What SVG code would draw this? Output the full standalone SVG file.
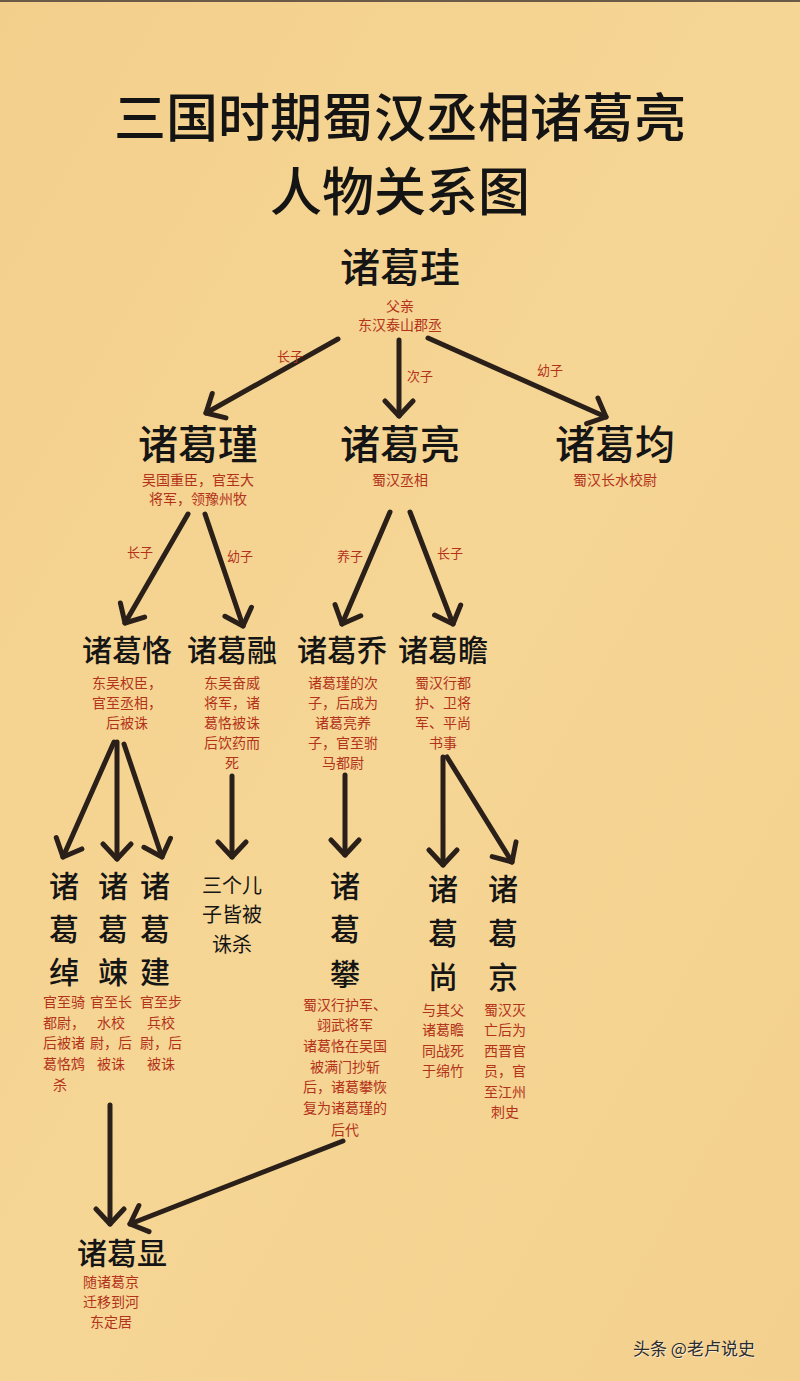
<svg xmlns="http://www.w3.org/2000/svg" width="800" height="1381" viewBox="0 0 800 1381">
<defs>
<linearGradient id="bg" x1="0" y1="0" x2="1" y2="1">
<stop offset="0" stop-color="#F3CF8C"/>
<stop offset="0.5" stop-color="#F6D695"/>
<stop offset="1" stop-color="#F3D08E"/>
</linearGradient>
<marker id="ah" viewBox="-20 -17 24 34" refX="0" refY="0" markerWidth="24" markerHeight="34" markerUnits="userSpaceOnUse" orient="auto">
<path d="M-15,-14 L0,0 L-15,14" fill="none" stroke="#2a2019" stroke-width="5" stroke-linecap="round" stroke-linejoin="round"/>
</marker>
<style>
text{font-family:"Noto Sans CJK SC","Noto Sans",sans-serif;text-anchor:middle}
.title{font-size:52px;font-weight:500;fill:#141414}
.n1{font-size:40px;font-weight:500;fill:#151515}
.n2{font-size:30px;font-weight:500;fill:#151515}
.d{font-size:14px;fill:#b3321a}
.rel{font-size:13px;fill:#b3321a}
.c{font-size:20px;fill:#151515}
.arr line{stroke:#2a2019;stroke-width:5;stroke-linecap:round;marker-end:url(#ah)}
.wm{font-size:17px;fill:#2c2c2c;text-anchor:start}
</style>
</defs>
<rect width="800" height="1381" fill="url(#bg)"/>
<rect width="800" height="2" fill="#6a5a47"/>

<g id="title">
<text class="title" x="400" y="137">三国时期蜀汉丞相诸葛亮</text>
<text class="title" x="400" y="211">人物关系图</text>
</g>

<g id="connectors" class="arr">
<line x1="338" y1="339" x2="206" y2="413"/>
<line x1="399" y1="340" x2="399" y2="416"/>
<line x1="428" y1="338" x2="606" y2="417"/>
<line x1="188" y1="514" x2="125" y2="623"/>
<line x1="205" y1="514" x2="243" y2="626"/>
<line x1="390" y1="512" x2="342" y2="624"/>
<line x1="410" y1="512" x2="453" y2="624"/>
<line x1="114" y1="742" x2="63" y2="857"/>
<line x1="117" y1="742" x2="117" y2="859"/>
<line x1="124" y1="744" x2="162" y2="857"/>
<line x1="232" y1="776" x2="232" y2="857"/>
<line x1="345" y1="775" x2="345" y2="855"/>
<line x1="443" y1="757" x2="443" y2="865"/>
<line x1="447" y1="757" x2="512" y2="862"/>
<line x1="110" y1="1105" x2="110" y2="1224"/>
<line x1="343" y1="1141" x2="130" y2="1224"/>
</g>

<g id="rel-labels">
<text class="rel" x="290" y="361">长子</text>
<text class="rel" x="420" y="381">次子</text>
<text class="rel" x="550" y="375">幼子</text>
<text class="rel" x="140" y="557">长子</text>
<text class="rel" x="240" y="561">幼子</text>
<text class="rel" x="350" y="561">养子</text>
<text class="rel" x="450" y="558">长子</text>
</g>

<g id="n-zhugegui">
<text class="n1" x="400" y="282">诸葛珪</text>
<text class="d" x="400" y="311">父亲</text>
<text class="d" x="400" y="330">东汉泰山郡丞</text>
</g>

<g id="n-zhugejin">
<text class="n1" x="198" y="459">诸葛瑾</text>
<text class="d" x="198" y="485">吴国重臣，官至大</text>
<text class="d" x="198" y="504">将军，领豫州牧</text>
</g>

<g id="n-zhugeliang">
<text class="n1" x="400" y="459">诸葛亮</text>
<text class="d" x="400" y="485">蜀汉丞相</text>
</g>

<g id="n-zhugejun">
<text class="n1" x="615" y="459">诸葛均</text>
<text class="d" x="615" y="485">蜀汉长水校尉</text>
</g>

<g id="n-zhugeke">
<text class="n2" x="127" y="661">诸葛恪</text>
<text class="d" x="127" y="688">东吴权臣，</text>
<text class="d" x="127" y="708">官至丞相，</text>
<text class="d" x="127" y="728">后被诛</text>
</g>

<g id="n-zhugerong">
<text class="n2" x="232" y="661">诸葛融</text>
<text class="d" x="232" y="688">东吴奋威</text>
<text class="d" x="232" y="708">将军，诸</text>
<text class="d" x="232" y="728">葛恪被诛</text>
<text class="d" x="232" y="748">后饮药而</text>
<text class="d" x="232" y="768">死</text>
</g>

<g id="n-zhugeqiao">
<text class="n2" x="342" y="661">诸葛乔</text>
<text class="d" x="343" y="688">诸葛瑾的次</text>
<text class="d" x="343" y="708">子，后成为</text>
<text class="d" x="343" y="728">诸葛亮养</text>
<text class="d" x="343" y="748">子，官至驸</text>
<text class="d" x="343" y="768">马都尉</text>
</g>

<g id="n-zhugezhan">
<text class="n2" x="443" y="661">诸葛瞻</text>
<text class="d" x="443" y="688">蜀汉行都</text>
<text class="d" x="443" y="708">护、卫将</text>
<text class="d" x="443" y="728">军、平尚</text>
<text class="d" x="443" y="748">书事</text>
</g>

<g id="n-zhugechuo">
<text class="n2" x="64" y="897">诸</text>
<text class="n2" x="64" y="940">葛</text>
<text class="n2" x="64" y="983">绰</text>
<text class="d" x="64" y="1007">官至骑</text>
<text class="d" x="64" y="1028">都尉，</text>
<text class="d" x="64" y="1048">后被诸</text>
<text class="d" x="64" y="1069">葛恪鸩</text>
<text class="d" x="60" y="1090">杀</text>
</g>

<g id="n-zhugesong">
<text class="n2" x="113" y="897">诸</text>
<text class="n2" x="113" y="940">葛</text>
<text class="n2" x="113" y="983">竦</text>
<text class="d" x="111" y="1007">官至长</text>
<text class="d" x="111" y="1028">水校</text>
<text class="d" x="111" y="1048">尉，后</text>
<text class="d" x="111" y="1069">被诛</text>
</g>

<g id="n-zhugejian">
<text class="n2" x="155" y="897">诸</text>
<text class="n2" x="155" y="940">葛</text>
<text class="n2" x="155" y="983">建</text>
<text class="d" x="161" y="1007">官至步</text>
<text class="d" x="161" y="1028">兵校</text>
<text class="d" x="161" y="1048">尉，后</text>
<text class="d" x="161" y="1069">被诛</text>
</g>

<g id="n-sons">
<text class="c" x="232" y="893">三个儿</text>
<text class="c" x="232" y="922">子皆被</text>
<text class="c" x="232" y="952">诛杀</text>
</g>

<g id="n-zhugepan">
<text class="n2" x="345" y="897">诸</text>
<text class="n2" x="345" y="940">葛</text>
<text class="n2" x="345" y="985">攀</text>
<text class="d" x="345" y="1010">蜀汉行护军、</text>
<text class="d" x="345" y="1030">翊武将军</text>
<text class="d" x="345" y="1051">诸葛恪在吴国</text>
<text class="d" x="345" y="1072">被满门抄斩</text>
<text class="d" x="345" y="1092">后，诸葛攀恢</text>
<text class="d" x="345" y="1113">复为诸葛瑾的</text>
<text class="d" x="345" y="1135">后代</text>
</g>

<g id="n-zhugeshang">
<text class="n2" x="443" y="900">诸</text>
<text class="n2" x="443" y="944">葛</text>
<text class="n2" x="443" y="988">尚</text>
<text class="d" x="443" y="1015">与其父</text>
<text class="d" x="443" y="1035">诸葛瞻</text>
<text class="d" x="443" y="1056">同战死</text>
<text class="d" x="443" y="1076">于绵竹</text>
</g>

<g id="n-zhugejing">
<text class="n2" x="503" y="900">诸</text>
<text class="n2" x="503" y="944">葛</text>
<text class="n2" x="503" y="988">京</text>
<text class="d" x="505" y="1015">蜀汉灭</text>
<text class="d" x="505" y="1035">亡后为</text>
<text class="d" x="505" y="1056">西晋官</text>
<text class="d" x="505" y="1076">员，官</text>
<text class="d" x="505" y="1097">至江州</text>
<text class="d" x="505" y="1117">刺史</text>
</g>

<g id="n-zhugexian">
<text class="n2" x="122" y="1264">诸葛显</text>
<text class="d" x="111" y="1287">随诸葛京</text>
<text class="d" x="111" y="1307">迁移到河</text>
<text class="d" x="111" y="1327">东定居</text>
</g>

<text class="wm" x="634" y="1356" opacity="0.6" style="fill:#fff">头条 @老卢说史</text>
<text class="wm" x="633" y="1355">头条 @老卢说史</text>
</svg>
